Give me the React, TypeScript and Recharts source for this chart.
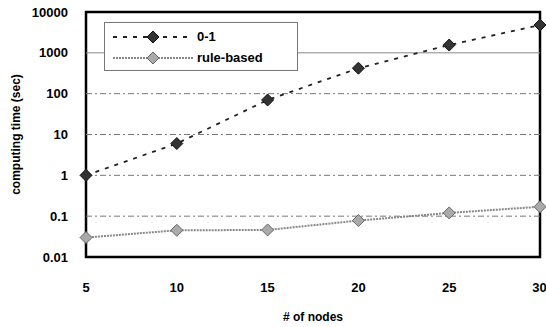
import {
  Line,
  LineChart,
  ReferenceArea,
  ReferenceLine,
  XAxis,
  YAxis,
} from "recharts";

const NODES = [5, 10, 15, 20, 25, 30];
const ZERO_ONE = [1, 6, 70, 420, 1550, 4800];
const RULE_BASED = [0.03, 0.045, 0.046, 0.078, 0.12, 0.17];
const Y_TICKS = [0.01, 0.1, 1, 10, 100, 1000, 10000];

const data = NODES.map((n, i) => ({ n, zeroOne: ZERO_ONE[i], rule: RULE_BASED[i] }));

const FONT = "'Liberation Sans', Arial, sans-serif";
const TICK = { fill: "#000", fontSize: 13, fontFamily: FONT, fontWeight: 700 };

function DarkDiamond(props: any) {
  const { cx, cy } = props;
  if (cx == null || cy == null) return null;
  return (
    <path
      d={`M${cx},${cy - 6}L${cx + 6},${cy}L${cx},${cy + 6}L${cx - 6},${cy}Z`}
      fill="#333"
      stroke="#111"
      strokeWidth={1}
    />
  );
}

function GrayDiamond(props: any) {
  const { cx, cy } = props;
  if (cx == null || cy == null) return null;
  return (
    <path
      d={`M${cx},${cy - 6}L${cx + 6},${cy}L${cx},${cy + 6}L${cx - 6},${cy}Z`}
      fill="#aaa"
      stroke="#666"
      strokeWidth={1}
    />
  );
}

function LegendBox() {
  const row = (label: string, dash: string, color: string, dark: boolean) => (
    <div style={{ display: "flex", alignItems: "center", height: 21, whiteSpace: "nowrap" }}>
      <svg width={84} height={14}>
        <line x1={2} y1={7} x2={82} y2={7} stroke={color} strokeWidth={2} strokeDasharray={dash} />
        <path
          d="M42,1L48,7L42,13L36,7Z"
          fill={dark ? "#333" : "#aaa"}
          stroke={dark ? "#111" : "#666"}
        />
      </svg>
      <span style={{ fontFamily: FONT, fontSize: 13, fontWeight: 700, marginLeft: 2 }}>{label}</span>
    </div>
  );
  return (
    <div
      style={{
        position: "absolute",
        left: 104,
        top: 22,
        width: 194,
        height: 49,
        background: "#fff",
        border: "1px solid #777",
        boxSizing: "border-box",
        padding: "3px 6px",
      }}
    >
      {row("0-1", "4 6", "#222", true)}
      {row("rule-based", "2 1", "#888", false)}
    </div>
  );
}

export default function App() {
  return (
    <div style={{ position: "absolute", left: 0, top: 0, width: 546, height: 327, background: "#fff" }}>
      <LineChart width={546} height={327} data={data} margin={{ top: 12, right: 6, bottom: 0, left: 0 }}>
        <XAxis
          dataKey="n"
          type="number"
          domain={[5, 30]}
          ticks={NODES}
          tick={TICK}
          tickLine={false}
          axisLine={false}
          tickMargin={20}
          height={70}
          label={{ value: "# of nodes", position: "insideBottom", offset: 6, style: { ...TICK, fontSize: 12 } }}
        />
        <YAxis
          scale="log"
          domain={[0.01, 10000]}
          allowDataOverflow
          ticks={Y_TICKS}
          tick={TICK}
          tickLine={false}
          axisLine={false}
          tickMargin={12}
          width={86}
          tickFormatter={(v: number) => String(v)}
          label={{
            value: "computing time (sec)",
            angle: -90,
            position: "insideLeft",
            offset: 16,
            style: { ...TICK, fontSize: 12, textAnchor: "middle" },
          }}
        />
        {Y_TICKS.slice(1, -1).map((t) => (
          <ReferenceLine
            key={t}
            y={t}
            stroke={t === 1000 ? "#888" : "#777"}
            strokeWidth={1}
            strokeDasharray={t === 1000 ? undefined : "6 3 2 3"}
          />
        ))}
        <ReferenceArea
          x1={5}
          x2={30}
          y1={0.01}
          y2={10000}
          fill="none"
          stroke="#000"
          strokeWidth={2.5}
          ifOverflow="visible"
        />
        <Line
          dataKey="zeroOne"
          stroke="#222"
          strokeWidth={1.8}
          strokeDasharray="4 6"
          dot={<DarkDiamond />}
          isAnimationActive={false}
        />
        <Line
          dataKey="rule"
          stroke="#888"
          strokeWidth={2}
          strokeDasharray="2 1"
          dot={<GrayDiamond />}
          isAnimationActive={false}
        />
      </LineChart>
      <LegendBox />
    </div>
  );
}
